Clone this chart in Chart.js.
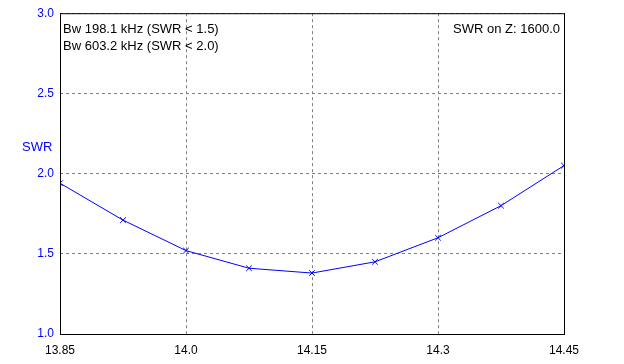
<!DOCTYPE html>
<html>
<head>
<meta charset="utf-8">
<script src="https://cdn.jsdelivr.net/npm/chart.js@4.4.0/dist/chart.umd.min.js"></script>
<style>
  html, body { margin: 0; padding: 0; background: #fff; }
  #wrap { width: 624px; height: 364px; }
</style>
</head>
<body>
<div id="wrap"><canvas id="myChart" width="624" height="364"></canvas></div>
<script>
'use strict';

// DATA
let freqs = [13.85, 13.925, 14.0, 14.075, 14.15, 14.225, 14.3, 14.375, 14.45];
let swrValues = [1.94, 1.71, 1.52, 1.41, 1.38, 1.45, 1.60, 1.80, 2.05];
let xTicks = [13.85, 14.0, 14.15, 14.3, 14.45];
let xTickLabels = ['13.85', '14.0', '14.15', '14.3', '14.45'];
let yTicks = [1.0, 1.5, 2.0, 2.5, 3.0];
let yTickLabels = ['1.0', '1.5', '2.0', '2.5', '3.0'];
let infoLines = ['Bw 198.1 kHz (SWR < 1.5)', 'Bw 603.2 kHz (SWR < 2.0)'];
let infoRight = 'SWR on Z: 1600.0';
let yTitle = 'SWR';

const FONT = '"Liberation Sans", Arial, sans-serif';

// box + texts
const textPlugin = {
  id: 'textPlugin',
  afterDatasetsDraw(chart) {
    let ctx = chart.ctx;
    let a = chart.chartArea;
    ctx.save();
    ctx.strokeStyle = '#000';
    ctx.lineWidth = 1;
    ctx.strokeRect(a.left + 0.5, a.top + 0.5, a.right - a.left, a.bottom - a.top);

    ctx.font = '13px ' + FONT;
    ctx.fillStyle = '#000';
    ctx.textBaseline = 'middle';
    ctx.textAlign = 'left';
    for (let i = 0; i < infoLines.length; i++) {
      ctx.fillText(infoLines[i], a.left + 3, a.top + 16 + i * 17);
    }
    ctx.textAlign = 'right';
    ctx.fillText(infoRight, a.right - 4, a.top + 16);

    ctx.fillStyle = '#0000ff';
    ctx.textAlign = 'left';
    ctx.fillText(yTitle, 22, 147);
    ctx.restore();
  }
};

const data = {
  datasets: [{
    label: 'SWR',
    data: freqs.map((f, i) => ({ x: f, y: swrValues[i] })),
    borderColor: '#0000ff',
    borderWidth: 1,
    pointStyle: 'crossRot',
    pointRadius: 4,
    pointBorderColor: '#0000ff',
    pointBorderWidth: 1,
    tension: 0,
    fill: false
  }]
};

const config = {
  type: 'line',
  data: data,
  options: {
    responsive: false,
    animation: false,
    layout: { padding: { top: 10, right: 60, bottom: 0, left: 0 } },
    plugins: {
      legend: { display: false },
      tooltip: { enabled: false }
    },
    scales: {
      x: {
        type: 'linear',
        min: 13.85,
        max: 14.45,
        afterBuildTicks: (scale) => { scale.ticks = xTicks.map(v => ({ value: v })); },
        afterFit: (scale) => { scale.height = 30; },
        ticks: {
          color: '#000',
          font: { family: FONT, size: 12 },
          padding: 9,
          maxRotation: 0,
          autoSkip: false,
          callback: (v, i) => xTickLabels[i]
        },
        grid: { color: '#808080', drawTicks: false, lineWidth: 1 },
        border: { display: false, dash: [3, 3] }
      },
      y: {
        type: 'linear',
        min: 1.0,
        max: 3.0,
        afterBuildTicks: (scale) => { scale.ticks = yTicks.map(v => ({ value: v })); },
        afterFit: (scale) => { scale.width = 60; },
        ticks: {
          color: '#0000ff',
          font: { family: FONT, size: 12 },
          padding: 6,
          autoSkip: false,
          callback: (v, i) => yTickLabels[i]
        },
        grid: { color: '#808080', drawTicks: false, lineWidth: 1 },
        border: { display: false, dash: [3, 3] }
      }
    }
  },
  plugins: [textPlugin]
};

let canvasChart = document.getElementById('myChart');
const myChart = new Chart(canvasChart, config);
</script>
</body>
</html>
